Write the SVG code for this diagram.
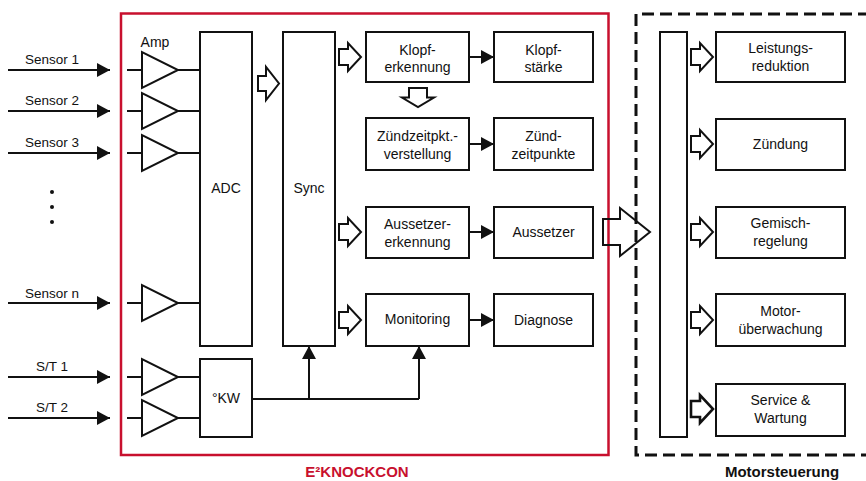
<svg xmlns="http://www.w3.org/2000/svg" width="866" height="481" viewBox="0 0 866 481">
<style>
  text { font-family: "Liberation Sans", Arial, sans-serif; font-size: 14px; fill: #111; text-anchor: middle; }
  .lbl { font-size: 13.5px; }
  .box { fill: #fff; stroke: #111; stroke-width: 2; }
  .ln { fill: none; stroke: #111; stroke-width: 2; }
  .amp { fill: #fff; stroke: #111; stroke-width: 2; stroke-linejoin: miter; }
  .hol { fill: #fff; stroke: #111; stroke-width: 2; stroke-linejoin: miter; }
  .title { font-weight: bold; font-size: 15px; }
</style>
<defs>
  <marker id="ah" markerUnits="userSpaceOnUse" markerWidth="14" markerHeight="14" viewBox="0 0 14 14" refX="13" refY="7" orient="auto">
    <path d="M0,0 L13,7 L0,14 Z" fill="#111"/>
  </marker>
  <path id="ha" d="M0,-8 H9 V-14 L22,0 L9,14 V8 H0 Z"/>
</defs>
<rect width="866" height="481" fill="#fff"/>

<!-- frames -->
<g id="e2knockcon-frame">
  <rect x="121" y="13.5" width="487.5" height="441.5" fill="none" stroke="#c8102e" stroke-width="2.5"/>
  <text x="357" y="477" class="title" fill="#c8102e" style="fill:#c8102e">E²KNOCKCON</text>
</g>
<g id="motorsteuerung-frame">
  <path d="M870,14 H636 V455 H870" fill="none" stroke="#111" stroke-width="3" stroke-dasharray="12,6"/>
  <text x="782" y="477" class="title">Motorsteuerung</text>
</g>

<!-- connectors -->
<g id="connectors">
  <line class="ln" x1="8" y1="70" x2="110" y2="70" marker-end="url(#ah)"/>
  <line class="ln" x1="8" y1="111" x2="110" y2="111" marker-end="url(#ah)"/>
  <line class="ln" x1="8" y1="153" x2="110" y2="153" marker-end="url(#ah)"/>
  <line class="ln" x1="8" y1="303" x2="110" y2="303" marker-end="url(#ah)"/>
  <line class="ln" x1="8" y1="377" x2="110" y2="377" marker-end="url(#ah)"/>
  <line class="ln" x1="8" y1="418" x2="110" y2="418" marker-end="url(#ah)"/>
  <!-- amp inputs/outputs -->
  <path class="ln" d="M127,70 H142 M178,70 H200 M127,111 H142 M178,111 H200 M127,153 H142 M178,153 H200 M127,303 H142 M178,303 H200 M127,377 H142 M178,377 H200 M127,418 H142 M178,418 H200"/>
  <!-- KW distribution -->
  <path class="ln" d="M252,399 H419"/>
  <line class="ln" x1="309" y1="399" x2="309" y2="346" marker-end="url(#ah)"/>
  <line class="ln" x1="419" y1="399" x2="419" y2="346" marker-end="url(#ah)"/>
  <!-- box to box arrows -->
  <line class="ln" x1="469" y1="57" x2="494" y2="57" marker-end="url(#ah)"/>
  <line class="ln" x1="469" y1="144" x2="494" y2="144" marker-end="url(#ah)"/>
  <line class="ln" x1="469" y1="232" x2="494" y2="232" marker-end="url(#ah)"/>
  <line class="ln" x1="469" y1="320" x2="494" y2="320" marker-end="url(#ah)"/>
  <!-- hollow arrows -->
  <path class="hol" d="M258,76 H266 V67 L279,83.5 L266,100 V91 H258 Z"/>
  <use href="#ha" class="hol" x="339" y="57"/>
  <use href="#ha" class="hol" x="339" y="232"/>
  <use href="#ha" class="hol" x="339" y="320"/>
  <path class="hol" d="M409,88 H427 V97.5 H434 L418,107 L402,97.5 H409 Z"/>
  <path d="M603,219 H620 V208 L650,232 L620,256 V245 H603 Z" fill="none" stroke="#111" stroke-width="2"/>
  <use href="#ha" class="hol" x="691" y="57"/>
  <use href="#ha" class="hol" x="691" y="144"/>
  <use href="#ha" class="hol" x="691" y="232"/>
  <use href="#ha" class="hol" x="691" y="320"/>
  <use href="#ha" class="hol" x="691" y="409" style="stroke-width:2.6"/>
</g>

<!-- sensor labels -->
<g id="inputs">
  <text class="lbl" x="52" y="64">Sensor 1</text>
  <text class="lbl" x="52" y="105">Sensor 2</text>
  <text class="lbl" x="52" y="147">Sensor 3</text>
  <circle cx="52" cy="192" r="2" fill="#111"/>
  <circle cx="52" cy="207" r="2" fill="#111"/>
  <circle cx="52" cy="222" r="2" fill="#111"/>
  <text class="lbl" x="52" y="298">Sensor n</text>
  <text class="lbl" x="52" y="371">S/T 1</text>
  <text class="lbl" x="52" y="412">S/T 2</text>
</g>

<g id="amps">
  <text x="155" y="47">Amp</text>
  <path class="amp" d="M142,52 V88 L178,70 Z"/>
  <path class="amp" d="M142,93 V129 L178,111 Z"/>
  <path class="amp" d="M142,135 V171 L178,153 Z"/>
  <path class="amp" d="M142,285 V321 L178,303 Z"/>
  <path class="amp" d="M142,359 V395 L178,377 Z"/>
  <path class="amp" d="M142,400 V436 L178,418 Z"/>
</g>

<g id="adc"><rect class="box" x="200" y="32" width="52" height="314"/><text x="226" y="193">ADC</text></g>
<g id="sync"><rect class="box" x="283" y="32" width="52" height="314"/><text x="309" y="193">Sync</text></g>
<g id="kw"><rect class="box" x="200" y="359" width="52" height="78"/><text x="226" y="403">°KW</text></g>

<g id="klopferkennung"><rect class="box" x="366" y="32" width="103" height="50"/><text x="417.5" y="55">Klopf-</text><text x="417.5" y="72">erkennung</text></g>
<g id="klopfstaerke"><rect class="box" x="494" y="32" width="99" height="50"/><text x="543.5" y="55">Klopf-</text><text x="543.5" y="72">stärke</text></g>
<g id="zuendzeitpktverstellung"><rect class="box" x="366" y="118" width="103" height="52"/><text x="417.5" y="141">Zündzeitpkt.-</text><text x="417.5" y="159">verstellung</text></g>
<g id="zuendzeitpunkte"><rect class="box" x="494" y="118" width="99" height="52"/><text x="543.5" y="141">Zünd-</text><text x="543.5" y="159">zeitpunkte</text></g>
<g id="aussetzererkennung"><rect class="box" x="366" y="207" width="103" height="51"/><text x="417.5" y="229">Aussetzer-</text><text x="417.5" y="247">erkennung</text></g>
<g id="aussetzer"><rect class="box" x="494" y="207" width="99" height="51"/><text x="543.5" y="237">Aussetzer</text></g>
<g id="monitoring"><rect class="box" x="366" y="294" width="103" height="52"/><text x="417.5" y="324">Monitoring</text></g>
<g id="diagnose"><rect class="box" x="494" y="294" width="99" height="52"/><text x="543.5" y="325">Diagnose</text></g>

<g id="bus"><rect class="box" x="660" y="32" width="27" height="405"/></g>
<g id="leistungsreduktion"><rect class="box" x="716" y="32" width="129" height="50"/><text x="780.5" y="53">Leistungs-</text><text x="780.5" y="71">reduktion</text></g>
<g id="zuendung"><rect class="box" x="716" y="119" width="129" height="51"/><text x="780.5" y="149">Zündung</text></g>
<g id="gemischregelung"><rect class="box" x="716" y="207" width="129" height="51"/><text x="780.5" y="228">Gemisch-</text><text x="780.5" y="246">regelung</text></g>
<g id="motorueberwachung"><rect class="box" x="716" y="294" width="129" height="52"/><text x="780.5" y="316">Motor-</text><text x="780.5" y="334">überwachung</text></g>
<g id="servicewartung"><rect class="box" x="716" y="384" width="129" height="52"/><text x="780.5" y="405">Service &amp;</text><text x="780.5" y="423">Wartung</text></g>
</svg>
